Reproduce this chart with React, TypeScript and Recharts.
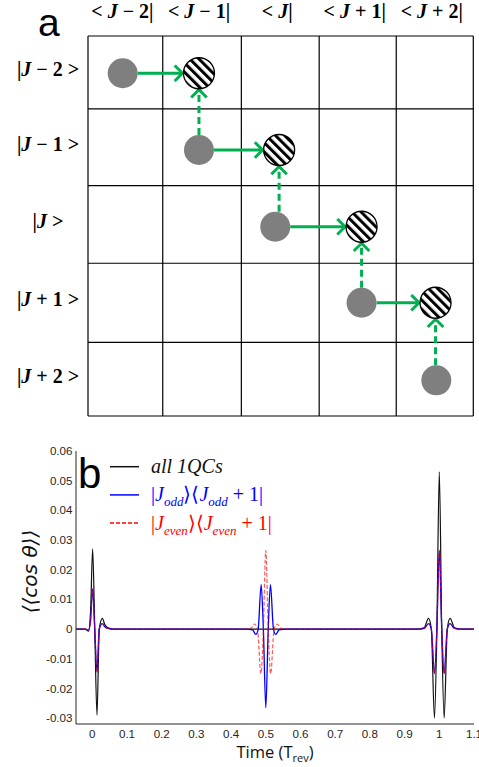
import React from 'react';
import { ScatterChart, Scatter, LineChart, Line, XAxis, YAxis, ReferenceLine, Legend, Label } from 'recharts';

// ---------- panel a ----------
const colLabels = ['< J − 2|', '< J − 1|', '< J|', '< J + 1|', '< J + 2|'];
const rowLabels = ['|J − 2 >', '|J − 1 >', '|J >', '|J + 1 >', '|J + 2 >'];
const colEdges = [0, 0.97, 1.99, 3.0, 4.0, 5.0];
const rowEdges = [0, 0.96, 1.97, 2.99, 4.03, 5.0];
const grayX = [0.45, 1.44, 2.43, 3.55, 4.52];
const grayY = [0.49, 1.5, 2.51, 3.51, 4.53];
const hatchX = [1.44, 2.48, 3.55, 4.51];
const hatchY = [0.49, 1.5, 2.51, 3.51];

// ---------- panel b ----------
const blackT = [-0.047, -0.02, -0.011, -0.005, 0.001, 0.007, 0.0135, 0.02, 0.029, 0.036, 0.045, 0.06,
  0.94, 0.956, 0.969, 0.977, 0.986, 0.993, 1.0, 1.007, 1.014, 1.023, 1.031, 1.044, 1.06, 1.1];
const blackV = [0, 0, -0.0007, 0.006, 0.027, 0, -0.029, 0, 0.0036, 0.0015, 0.0004, 0,
  0, 0.0004, 0.0036, 0, -0.03, 0, 0.053, 0, -0.03, 0, 0.0036, 0.0004, 0, 0];

const blueT = [-0.047, -0.02, -0.011, -0.005, 0.001, 0.007, 0.0135, 0.02, 0.029, 0.036, 0.045, 0.06,
  0.44, 0.462, 0.471, 0.478, 0.4866, 0.493, 0.5, 0.507, 0.5134, 0.522, 0.529, 0.538, 0.56,
  0.94, 0.956, 0.969, 0.977, 0.986, 0.993, 1.0, 1.007, 1.014, 1.023, 1.031, 1.044, 1.06, 1.1];
const blueV = [0, 0, -0.0004, 0.003, 0.0135, 0, -0.0145, 0, 0.0018, 0.0008, 0.0002, 0,
  0, -0.0003, -0.0018, 0, 0.015, 0, -0.0265, 0, 0.015, 0, -0.0018, -0.0003, 0,
  0, 0.0002, 0.0018, 0, -0.015, 0, 0.0265, 0, -0.015, 0, 0.0018, 0.0002, 0, 0];

const redT = [-0.047, -0.02, -0.011, -0.005, 0.001, 0.007, 0.0135, 0.02, 0.029, 0.036, 0.045, 0.06,
  0.44, 0.458, 0.467, 0.476, 0.486, 0.493, 0.5, 0.507, 0.514, 0.524, 0.533, 0.542, 0.56,
  0.94, 0.956, 0.969, 0.977, 0.986, 0.993, 1.0, 1.007, 1.014, 1.023, 1.031, 1.044, 1.06, 1.1];
const redV = [0, 0, -0.0004, 0.003, 0.0135, 0, -0.0145, 0, 0.0018, 0.0008, 0.0002, 0,
  0, 0.0003, 0.0017, 0, -0.015, 0, 0.0265, 0, -0.015, 0, 0.0017, 0.0003, 0,
  0, 0.0002, 0.0018, 0, -0.015, 0, 0.0265, 0, -0.015, 0, 0.0018, 0.0002, 0, 0];

const xTicks = [0, 0.1, 0.2, 0.3, 0.4, 0.5, 0.6, 0.7, 0.8, 0.9, 1, 1.1];
const yTicks = [-0.03, -0.02, -0.01, 0, 0.01, 0.02, 0.03, 0.04, 0.05, 0.06];
const seriesNames = ['all 1QCs', '|J_odd⟩⟨J_odd + 1|', '|J_even⟩⟨J_even + 1|'];
const seriesColors = ['#111111', '#0000ff', '#ff0000'];

const GREEN = '#00b050';
const AX = '#262626';

const colCenters = colEdges.slice(0, -1).map((e, i) => (e + colEdges[i + 1]) / 2);
const rowCenters = rowEdges.slice(0, -1).map((e, i) => (e + rowEdges[i + 1]) / 2);
const grayPts = grayX.map((x, i) => ({ x, y: grayY[i] }));
const hatchPts = hatchX.map((x, i) => ({ x, y: hatchY[i] }));
const mk = (t: number[], v: number[]) => t.map((tt, i) => ({ t: tt, v: v[i] }));
const blackData = mk(blackT, blackV);
const blueData = mk(blueT, blueV);
const redData = mk(redT, redV);

const MathLabel = ({ text, ...rest }: any) => {
  const i = text.indexOf('J');
  return (
    <text {...rest} style={{ whiteSpace: 'pre' }}>
      <tspan>{text.slice(0, i)}</tspan>
      <tspan fontStyle="italic">J</tspan>
      <tspan>{text.slice(i + 1)}</tspan>
    </text>
  );
};

const ColTick = (p: any) => {
  const idx = colCenters.indexOf(p.payload.value);
  return (
    <MathLabel text={colLabels[idx]} x={p.x - 3} y={p.y - 10.5} textAnchor="middle"
      fontFamily="Liberation Serif" fontWeight="bold" fontSize={20} fill="#000" />
  );
};
const RowTick = (p: any) => {
  const idx = rowCenters.indexOf(p.payload.value);
  return (
    <MathLabel text={rowLabels[idx]} x={p.x - 32} y={p.y + 3.5} textAnchor="middle"
      fontFamily="Liberation Serif" fontWeight="bold" fontSize={20} fill="#000" />
  );
};

const GrayDot = (p: any) => <circle cx={p.cx} cy={p.cy} r={15} fill="#7f7f7f" />;
const HatchDot = (p: any) => (
  <circle cx={p.cx} cy={p.cy} r={15.5} fill="url(#hatch)" stroke="#000" strokeWidth={1.3} />
);

const makeArrow = (dashed: boolean) => (p: any) => {
  const { x1, y1, x2, y2 } = p;
  const dx = x2 - x1, dy = y2 - y1;
  const len = Math.hypot(dx, dy) || 1;
  const ux = dx / len, uy = dy / len;
  const sx = x1 + ux * 15, sy = y1 + uy * 15;
  const ex = x2 - ux * 16.5, ey = y2 - uy * 16.5;
  const arm = 11, c = Math.cos(0.785), s = Math.sin(0.785);
  const bx = -ux, by = -uy;
  const a1x = ex + arm * (bx * c - by * s), a1y = ey + arm * (bx * s + by * c);
  const a2x = ex + arm * (bx * c + by * s), a2y = ey + arm * (-bx * s + by * c);
  return (
    <g>
      <line x1={sx} y1={sy} x2={ex - ux} y2={ey - uy} stroke={GREEN} strokeWidth={3}
        strokeDasharray={dashed ? '7 4' : undefined} />
      <polyline points={`${a1x},${a1y} ${ex},${ey} ${a2x},${a2y}`} fill="none" stroke={GREEN} strokeWidth={3} />
    </g>
  );
};
const SolidArrow = makeArrow(false);
const DashArrow = makeArrow(true);

const renderMath = (s: string, italicAll: boolean) => {
  const parts = s.split(/(J_[a-z]+)/).filter((q) => q.length > 0);
  const out: any[] = [];
  let pendingUp = false;
  parts.forEach((p, i) => {
    if (p.startsWith('J_')) {
      out.push(<tspan key={i + 'a'} fontStyle="italic" dy={pendingUp ? -5 : 0}>J</tspan>);
      out.push(<tspan key={i + 'b'} fontStyle="italic" fontSize={13} dy={5}>{p.slice(2)}</tspan>);
      pendingUp = true;
    } else {
      out.push(<tspan key={i} fontStyle={italicAll ? 'italic' : 'normal'} dy={pendingUp ? -5 : 0}>{p}</tspan>);
      pendingUp = false;
    }
  });
  return out;
};

const LegendBox = () => (
  <svg width={320} height={110} style={{ overflow: 'visible', display: 'block' }}>
    <text x={78} y={57.5} fontFamily="Liberation Sans" fontSize={42} fill="#000">b</text>
    {seriesNames.map((n, i) => {
      const ly = 36.7 + i * 28.2;
      return (
        <g key={n}>
          <line x1={110} x2={139} y1={ly} y2={ly} stroke={seriesColors[i]} strokeWidth={1.5}
            strokeDasharray={i === 2 ? '4 2' : undefined} />
          <text x={151} y={ly + 6.5} fontFamily="Liberation Serif" fontSize={20} fill={seriesColors[i]}
            style={{ whiteSpace: 'pre' }}>
            {renderMath(n, i === 0)}
          </text>
        </g>
      );
    })}
  </svg>
);

const XLabel = (props: any) => {
  const vb = props.viewBox || {};
  return (
    <text x={vb.x + vb.width / 2} y={vb.y + 33.7} textAnchor="middle" fontFamily="Open Sans" fontSize={16.5} fill="#111">
      <tspan>Time (T</tspan>
      <tspan fontSize={11} dy={4}>rev</tspan>
      <tspan dy={-4}>)</tspan>
    </text>
  );
};
const YLabel = (props: any) => {
  const vb = props.viewBox || {};
  const cx = vb.x + 14;
  const cy = vb.y + vb.height / 2 - 16;
  return (
    <text x={cx} y={cy} transform={`rotate(-90 ${cx} ${cy})`} textAnchor="middle" dominantBaseline="central"
      fontFamily="DejaVu Sans" fontStyle="italic" fontSize={20} fill="#111" style={{ whiteSpace: 'pre' }}>
      ⟨⟨cos θ⟩⟩
    </text>
  );
};

export default function App() {
  return (
    <div style={{ position: 'absolute', left: 0, top: 0, width: 479, height: 767, background: '#fff', overflow: 'hidden' }}>
      <svg width={479} height={767} style={{ position: 'absolute', left: 0, top: 0, pointerEvents: 'none', zIndex: 5 }}>
        <defs>
          <pattern id="hatch" patternUnits="userSpaceOnUse" width={6.5} height={6.5} patternTransform="rotate(-45)">
            <rect width={6.5} height={6.5} fill="#fff" />
            <rect width={3} height={6.5} fill="#000" />
          </pattern>
        </defs>
        <text x={38} y={35.5} fontFamily="Liberation Sans" fontSize={39} fill="#000">a</text>
      </svg>

      <div style={{ position: 'absolute', left: 0, top: 0 }}>
        <ScatterChart width={479} height={425} margin={{ top: 6, right: 5.7, bottom: 6, left: 8 }}>
          <XAxis xAxisId="b" type="number" dataKey="x" domain={[0, 5]} allowDataOverflow ticks={colEdges} interval={0}
            tick={false} tickSize={3} height={3} axisLine={false} tickLine={{ stroke: '#000', strokeWidth: 1.2 }} />
          <XAxis xAxisId="t" orientation="top" type="number" dataKey="x" domain={[0, 5]} allowDataOverflow ticks={colCenters}
            interval={0} tick={<ColTick />} tickLine={false} axisLine={false} height={30} />
          <YAxis yAxisId="l" type="number" dataKey="y" domain={[0, 5]} reversed allowDataOverflow ticks={rowCenters}
            interval={0} tick={<RowTick />} tickLine={false} axisLine={false} width={80} />
          {colEdges.map((x) => (
            <ReferenceLine key={'c' + x} xAxisId="b" yAxisId="l" x={x} stroke="#000" strokeWidth={1.2} />
          ))}
          {rowEdges.map((y) => (
            <ReferenceLine key={'r' + y} xAxisId="b" yAxisId="l" y={y} stroke="#000" strokeWidth={1.2} />
          ))}
          {hatchX.map((hx, i) => (
            <ReferenceLine key={'h' + i} xAxisId="b" yAxisId="l"
              segment={[{ x: grayX[i], y: grayY[i] }, { x: hx, y: grayY[i] }]} shape={SolidArrow} />
          ))}
          {hatchX.map((hx, i) => (
            <ReferenceLine key={'v' + i} xAxisId="b" yAxisId="l"
              segment={[{ x: hx, y: grayY[i + 1] }, { x: hx, y: hatchY[i] }]} shape={DashArrow} />
          ))}
          <Scatter xAxisId="b" yAxisId="l" data={grayPts} shape={GrayDot} isAnimationActive={false} />
          <Scatter xAxisId="b" yAxisId="l" data={hatchPts} shape={HatchDot} isAnimationActive={false} />
        </ScatterChart>
      </div>

      <div style={{ position: 'absolute', left: 0, top: 430 }}>
        <LineChart width={479} height={337} margin={{ top: 21, right: 5, bottom: 13, left: 16 }}>
          <XAxis xAxisId="x" type="number" dataKey="t" domain={[-0.047, 1.1]} allowDataOverflow ticks={xTicks} interval={0}
            tickLine={false} tickSize={4} tickMargin={2} height={30}
            tick={{ fill: AX, fontSize: 11.6, fontFamily: 'Liberation Sans' }} axisLine={{ stroke: AX, strokeWidth: 1 }}>
            <Label content={XLabel} />
          </XAxis>
          <XAxis xAxisId="xb" type="number" dataKey="t" domain={[-0.047, 1.1]} allowDataOverflow ticks={xTicks} interval={0}
            mirror height={0} tick={false} tickSize={4} axisLine={false} tickLine={{ stroke: AX }} />
          <XAxis xAxisId="xt" orientation="top" type="number" dataKey="t" domain={[-0.047, 1.1]} allowDataOverflow ticks={xTicks}
            interval={0} mirror height={0} tick={false} tickSize={4} axisLine={{ stroke: AX }} tickLine={{ stroke: AX }} />
          <YAxis yAxisId="y" type="number" domain={[-0.032, 0.06]} allowDataOverflow ticks={yTicks} interval={0}
            tickLine={false} tickSize={1} tickMargin={2.5} width={60}
            tick={{ fill: AX, fontSize: 11.6, fontFamily: 'Liberation Sans' }} axisLine={{ stroke: AX, strokeWidth: 1 }}>
            <Label content={YLabel} />
          </YAxis>
          <YAxis yAxisId="yl" type="number" domain={[-0.032, 0.06]} allowDataOverflow ticks={yTicks} interval={0}
            mirror width={0} tick={false} tickSize={4} axisLine={false} tickLine={{ stroke: AX }} />
          <YAxis yAxisId="yr" orientation="right" type="number" domain={[-0.032, 0.06]} allowDataOverflow ticks={yTicks}
            interval={0} mirror width={0} tick={false} tickSize={4} axisLine={{ stroke: AX }} tickLine={{ stroke: AX }} />
          <Line xAxisId="x" yAxisId="y" data={blackData} dataKey="v" name={seriesNames[0]} type="monotone"
            stroke={seriesColors[0]} strokeWidth={1.2} dot={false} isAnimationActive={false} />
          <Line xAxisId="x" yAxisId="y" data={blueData} dataKey="v" name={seriesNames[1]} type="monotone"
            stroke={seriesColors[1]} strokeWidth={1.3} dot={false} isAnimationActive={false} />
          <Line xAxisId="x" yAxisId="y" data={redData} dataKey="v" name={seriesNames[2]} type="monotone"
            stroke={seriesColors[2]} strokeOpacity={0.65} strokeWidth={1.2} strokeDasharray="4 2" dot={false}
            isAnimationActive={false} />
          <Legend layout="vertical" align="center" verticalAlign="middle" content={LegendBox}
            wrapperStyle={{ left: 0, top: 0, width: 320, height: 110 }} />
        </LineChart>
      </div>
    </div>
  );
}
